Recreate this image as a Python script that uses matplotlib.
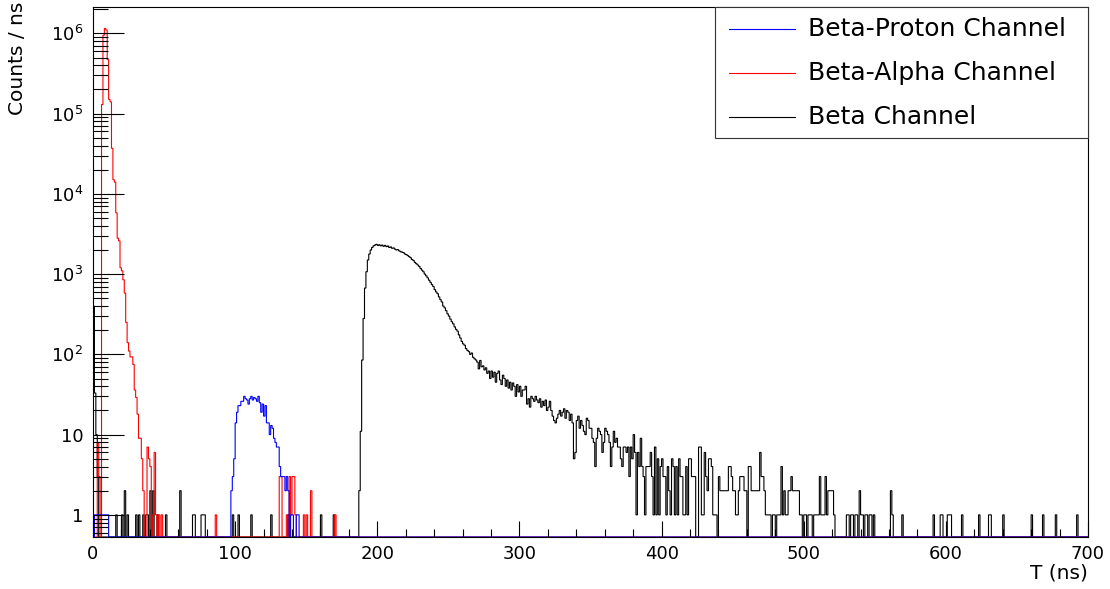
import numpy as np
import matplotlib
matplotlib.use('Agg')
import matplotlib.pyplot as plt
from matplotlib.ticker import FixedLocator, FixedFormatter, MultipleLocator, LogLocator, NullFormatter
from matplotlib.lines import Line2D
from matplotlib.patches import Rectangle

# binning: 1 ns bins from 0 to 700 ns
t_min, t_max, n_bins = 0, 700, 700

# Beta-Proton channel (counts per bin)
proton_low_start = 1
proton_low = [1, 1, 1, 1, 1, 1, 1, 1, 1, 1]
proton_peak_start = 97
proton_peak = [2, 3, 5, 14, 19, 23, 23, 26, 26, 30, 28, 27, 24, 28, 30, 27, 29, 28,
               26, 30, 25, 19, 24, 17, 23, 14, 14, 10, 13, 12, 9, 8, 7, 7, 4, 3,
               3, 3, 2, 3, 2, 0, 1, 1, 0, 0, 1, 1]

# Beta-Alpha channel
alpha_start = 0
alpha_counts = [0, 0, 0, 8, 3, 0, 1.3e5, 9.5e5, 1.15e6, 1.1e6,
                4.7e5, 1.5e5, 1.4e5, 3.7e4, 1.5e4, 1.4e4, 5.8e3, 2.8e3, 2.6e3, 1.2e3,
                1.1e3, 850, 580, 250, 140, 110, 93, 93, 75, 36,
                29, 18, 9, 9, 5, 2, 0, 0, 7, 5,
                4, 0, 1, 6, 1, 0, 1, 0, 1, 0]
alpha_extra_bins = [86, 131, 132, 136, 138, 139, 140, 141, 142, 148, 150, 153, 170]
alpha_extra_counts = [1, 3, 3, 1, 3, 1, 3, 3, 1, 1, 1, 2, 1]

# Beta channel
beta_head_start = 0
beta_head = [400, 33, 10, 3]
beta_iso_bins = [16, 20, 22, 24, 30, 32, 35, 37, 38, 40, 42, 45, 51, 61, 70, 71,
                 76, 77, 78, 98, 102, 111, 125, 137, 160, 169]
beta_iso_counts = [1, 1, 2, 1, 1, 1, 1, 1, 1, 2, 2, 1, 1, 2, 1, 1,
                   1, 1, 1, 1, 1, 1, 1, 1, 1, 1]
beta_main_start = 187
beta_main = [2, 11, 85, 280, 670, 1070, 1500, 1780, 2000, 2150, 2250, 2300, 2350,
             2280, 2320, 2250, 2300, 2220, 2280, 2200, 2240, 2150, 2180,
             2100, 2120, 2050, 2000, 2020, 1950, 1900, 1880, 1850, 1780,
             1750, 1700, 1650, 1600, 1520, 1480, 1400, 1350, 1300, 1250,
             1180, 1120, 1070, 1000, 950, 900, 840, 790, 740, 700,
             640, 600, 570, 520, 480, 450, 400, 380, 350, 320,
             300, 275, 255, 240, 220, 205, 195, 175, 160, 145,
             135, 130, 118, 112, 108, 100, 104, 92, 88, 85,
             80, 66, 84, 70, 72, 64, 68, 58, 62, 50,
             62, 52, 60, 45, 58, 62, 48, 42, 55, 50,
             40, 48, 38, 45, 36, 44, 40, 30, 42, 34,
             40, 30, 36, 36, 40, 24, 28, 22, 30, 28,
             26, 30, 27, 25, 28, 22, 26, 23, 27, 20,
             22, 26, 20, 17, 15, 14, 16, 18, 20, 17,
             19, 21, 16, 20, 19, 15, 18, 14, 5, 6,
             15, 17, 12, 15, 13, 11, 10, 16, 15, 12,
             12, 9, 8, 4, 9, 12, 11, 10, 6, 8,
             12, 11, 10, 8, 4, 7, 11, 8, 9, 7,
             7, 5, 4, 7, 7, 6, 7, 3, 7, 5,
             10, 6, 1, 6, 4, 9, 4, 3, 1, 4,
             4, 4, 6, 3, 1, 7, 1, 5, 1, 4,
             5, 3, 3, 1, 4, 2, 1, 5, 4, 1,
             4, 1, 5, 3, 3, 1, 1, 4, 1, 5,
             5, 3, 3, 3, 0, 0, 7, 7, 1, 1,
             6, 3, 2, 5, 5, 4, 1, 1, 1, 0,
             3, 2, 2, 2, 2, 2, 2, 4, 4, 3,
             2, 2, 1, 1, 2, 3, 3, 3, 2, 2,
             0, 4, 4, 2, 2, 2, 2, 2, 2, 6,
             3, 3, 2, 1, 1, 1, 1, 0, 1, 1,
             0, 1, 1, 1, 4, 1, 2, 1, 1, 2,
             2, 3, 2, 2, 2, 2, 2, 1, 1, 0,
             1, 1, 0, 1, 1, 1, 0, 1, 1, 1,
             1, 3, 1, 1, 1, 3, 1, 2, 2, 2,
             2, 1, 0]
beta_tail_bins = [530, 531, 533, 534, 536, 537, 539, 540, 541, 543, 544, 546, 547,
                  549, 561, 562, 569, 591, 596, 597, 601, 602, 603, 611, 623, 630,
                  631, 640, 660, 668, 677, 692]
beta_tail_counts = [1, 1, 1, 1, 1, 1, 2, 1, 1, 1, 1, 1, 1,
                    1, 2, 1, 1, 1, 1, 1, 1, 1, 1, 1, 1, 1,
                    1, 1, 1, 1, 1, 1]

labels = ['Beta-Proton Channel', 'Beta-Alpha Channel', 'Beta Channel']
colors = ['#0000ff', '#ff0000', '#000000']

y_lo, y_hi = 0.53, 2.13e6


def build_hist(blocks=(), sparse=()):
    h = np.zeros(n_bins)
    for start, vals in blocks:
        h[start:start + len(vals)] = vals
    for bins, counts in sparse:
        h[np.array(bins)] = counts
    return h


proton = build_hist([(proton_low_start, proton_low), (proton_peak_start, proton_peak)])
alpha = build_hist([(alpha_start, alpha_counts)], [(alpha_extra_bins, alpha_extra_counts)])
beta = build_hist([(beta_head_start, beta_head), (beta_main_start, beta_main)],
                  [(beta_iso_bins, beta_iso_counts), (beta_tail_bins, beta_tail_counts)])

edges = np.linspace(t_min, t_max, n_bins + 1)

fig = plt.figure(figsize=(11.10, 5.89), dpi=100)
W, H = 1110, 589
ax = fig.add_axes([93 / W, 1 - 537 / H, 995 / W, 530 / H])

# empty bins sit on the lower frame edge, like ROOT does on a log axis
for h, c in [(beta, colors[2]), (alpha, colors[1]), (proton, colors[0])]:
    ax.stairs(np.where(h > 0, h, y_lo), edges, baseline=None, color=c, lw=0.8, clip_on=False)

ax.set_yscale('log')
ax.set_xlim(t_min, t_max)
ax.set_ylim(y_lo, y_hi)

major_y = [1, 10, 1e2, 1e3, 1e4, 1e5, 1e6]
ax.yaxis.set_major_locator(FixedLocator(major_y))
ax.yaxis.set_major_formatter(FixedFormatter(['1', '10', r'$10^{2}$', r'$10^{3}$',
                                             r'$10^{4}$', r'$10^{5}$', r'$10^{6}$']))
ax.yaxis.set_minor_locator(LogLocator(base=10, subs=np.arange(2, 10), numticks=30))
ax.yaxis.set_minor_formatter(NullFormatter())
ax.xaxis.set_major_locator(MultipleLocator(100))
ax.xaxis.set_minor_locator(MultipleLocator(20))

ax.tick_params(axis='y', which='major', direction='in', length=22, width=0.8, labelsize=13, pad=7)
ax.tick_params(axis='y', which='minor', direction='in', length=11, width=0.8)
ax.tick_params(axis='x', which='major', direction='in', length=11.5, width=0.8, labelsize=13, pad=6)
ax.tick_params(axis='x', which='minor', direction='in', length=5.8, width=0.8)
for s in ax.spines.values():
    s.set_linewidth(0.8)

ax.set_ylabel('Counts / ns', fontsize=14.5, loc='top')
ax.yaxis.set_label_coords(-0.066, 1.01)
ax.set_xlabel('T (ns)', fontsize=14.5, loc='right')
ax.xaxis.set_label_coords(1.0, -0.05)


# legend box drawn by hand in pixel positions
def fpx(x, y):
    return x / W, 1 - y / H


x0, y0 = fpx(715, 138)
x1, y1 = fpx(1088, 7)
fig.add_artist(Rectangle((x0, y0), x1 - x0, y1 - y0, transform=fig.transFigure,
                         facecolor='white', edgecolor='#333333', lw=0.8))
for i, (lab, c) in enumerate(zip(labels, colors)):
    yy = 29 + 44 * i
    fig.add_artist(Line2D([fpx(729, yy)[0], fpx(795, yy)[0]], [fpx(729, yy)[1]] * 2,
                          transform=fig.transFigure, color=c, lw=0.8))
    fig.text(*fpx(808, yy), lab, fontsize=18, va='center', ha='left')

fig.savefig('out.png', dpi=100, facecolor='white')
